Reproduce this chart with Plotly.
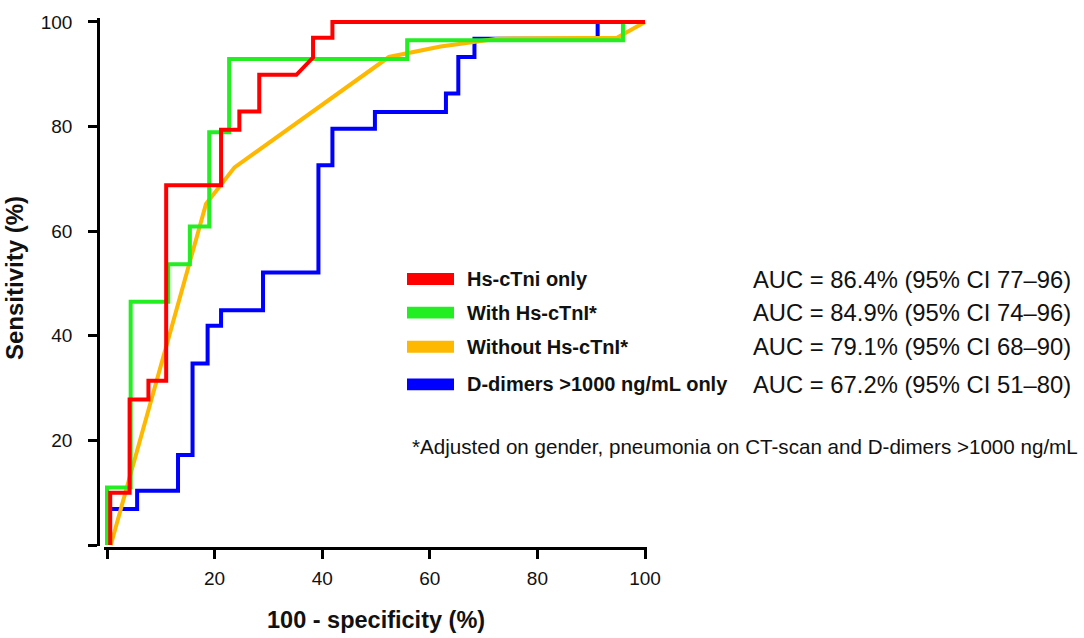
import plotly.graph_objects as go

# 100 - specificity (%) / sensitivity (%) coordinates of each ROC curve (step corners)
red_x = [0.6, 0.6, 4.2, 4.2, 7.7, 7.7, 11.0, 11.0, 21.2, 21.2, 24.6, 24.6, 28.3, 28.3, 35.2, 38.3, 38.3, 41.9, 41.9, 100]
red_y = [0, 10, 10, 27.8, 27.8, 31.4, 31.4, 68.8, 68.8, 79.4, 79.4, 82.9, 82.9, 89.9, 89.9, 93.2, 97.0, 97.0, 100, 100]

green_x = [0, 0, 4.4, 4.4, 11.4, 11.4, 15.4, 15.4, 19.0, 19.0, 22.7, 22.7, 55.8, 55.8, 95.9, 95.9, 100]
green_y = [0, 11, 11, 46.5, 46.5, 53.7, 53.7, 60.9, 60.9, 78.9, 78.9, 92.9, 92.9, 96.5, 96.5, 100, 100]

orange_x = [0.7, 18.4, 23.7, 36.1, 52.4, 62.0, 72.6, 94.8, 100]
orange_y = [0, 65.2, 72.2, 81.4, 93.3, 95.3, 96.8, 97.0, 100]

blue_x = [0, 0, 5.6, 5.6, 13.2, 13.2, 15.9, 15.9, 18.7, 18.7, 21.2, 21.2, 29.0, 29.0, 39.3, 39.3,
          41.9, 41.9, 49.8, 49.8, 63.0, 63.0, 65.3, 65.3, 68.3, 68.3, 91.2, 91.2, 100]
blue_y = [0, 6.9, 6.9, 10.4, 10.4, 17.2, 17.2, 34.7, 34.7, 41.9, 41.9, 44.9, 44.9, 52.1, 52.1, 72.6,
          72.6, 79.6, 79.6, 82.8, 82.8, 86.3, 86.3, 93.3, 93.3, 96.8, 96.8, 100, 100]

series_names = ["Hs-cTni only", "With Hs-cTnI*", "Without Hs-cTnI*", "D-dimers >1000 ng/mL only"]
auc_labels = ["AUC = 86.4% (95% CI 77\u201296)", "AUC = 84.9% (95% CI 74\u201296)",
              "AUC = 79.1% (95% CI 68\u201290)", "AUC = 67.2% (95% CI 51\u201280)"]
colors = ["#FF0000", "#22EE22", "#FFB800", "#0000FF"]
tick_vals = [0, 20, 40, 60, 80, 100]
tick_text = ["", "20", "40", "60", "80", "100"]
footnote = "*Adjusted on gender, pneumonia on CT-scan and D-dimers >1000 ng/mL"

FONT = "Arial, Liberation Sans, sans-serif"
W, H = 1084, 638
L, R, T, B = 98, 1084 - 647, 12, 90
PW, PH = W - L - R, H - T - B

def px(xp):
    return (xp - L) / PW

def py(yp):
    return (H - B - yp) / PH

fig = go.Figure()
curves = [(blue_x, blue_y, 3), (orange_x, orange_y, 2), (green_x, green_y, 1), (red_x, red_y, 0)]
for xs, ys, i in curves:
    fig.add_trace(go.Scatter(x=xs, y=ys, mode="lines", name=series_names[i],
                             line=dict(color=colors[i], width=4), showlegend=False,
                             hoverinfo="skip"))

# legend: swatches + labels + AUC text
rows = [276, 310, 344.5, 382.5]
shapes = []
annotations = []
for i, yc in enumerate(rows):
    shapes.append(dict(type="rect", xref="paper", yref="paper",
                       x0=px(407), x1=px(454), y0=py(yc + 6), y1=py(yc - 6),
                       fillcolor=colors[i], line=dict(width=0)))
    annotations.append(dict(xref="paper", yref="paper", x=px(465), y=py(yc),
                            text="<b>%s</b>" % series_names[i], showarrow=False,
                            xanchor="left", yanchor="middle",
                            font=dict(family=FONT, size=20, color="#111")))
    annotations.append(dict(xref="paper", yref="paper", x=px(751), y=py(yc),
                            text=auc_labels[i], showarrow=False,
                            xanchor="left", yanchor="middle",
                            font=dict(family=FONT, size=23.8, color="#111")))
annotations.append(dict(xref="paper", yref="paper", x=px(410), y=py(445),
                        text=footnote, showarrow=False, xanchor="left", yanchor="middle",
                        font=dict(family=FONT, size=20.6, color="#111")))
annotations.append(dict(xref="paper", yref="paper", x=px(376), y=py(621),
                        text="<b>100 - specificity (%)</b>", showarrow=False,
                        xanchor="center", yanchor="middle",
                        font=dict(family=FONT, size=23.5, color="#111")))
annotations.append(dict(xref="paper", yref="paper", x=px(14), y=py(275),
                        text="<b>Sensitivity (%)</b>", showarrow=False, textangle=-90,
                        xanchor="center", yanchor="middle",
                        font=dict(family=FONT, size=24, color="#111")))

fig.update_layout(
    width=W, height=H,
    margin=dict(l=L, r=R, t=T, b=B),
    paper_bgcolor="white", plot_bgcolor="white",
    shapes=shapes, annotations=annotations,
    xaxis=dict(range=[-3 / 5.38, 100 + 2 / 5.38], domain=[6 / PW, 1], anchor="free", position=0,
               showline=True, linecolor="black", linewidth=2.5, ticks="outside",
               ticklen=9, tickwidth=2.5, tickcolor="black", tickvals=tick_vals,
               ticktext=tick_text, showgrid=False, zeroline=False, ticklabelstandoff=3,
               tickfont=dict(family=FONT, size=19, color="#111")),
    yaxis=dict(range=[-1 / 5.29, 100 + 4 / 5.29], domain=[2 / PH, 1], anchor="free", position=0,
               showline=True, linecolor="black", linewidth=2.5, ticks="outside",
               ticklen=9, tickwidth=2.5, tickcolor="black", tickvals=tick_vals,
               ticktext=tick_text, showgrid=False, zeroline=False, ticklabelstandoff=12,
               tickfont=dict(family=FONT, size=19, color="#111")),
)

fig.write_html("out.html", config={"displayModeBar": False},
               post_script="document.body.style.margin='0';")
